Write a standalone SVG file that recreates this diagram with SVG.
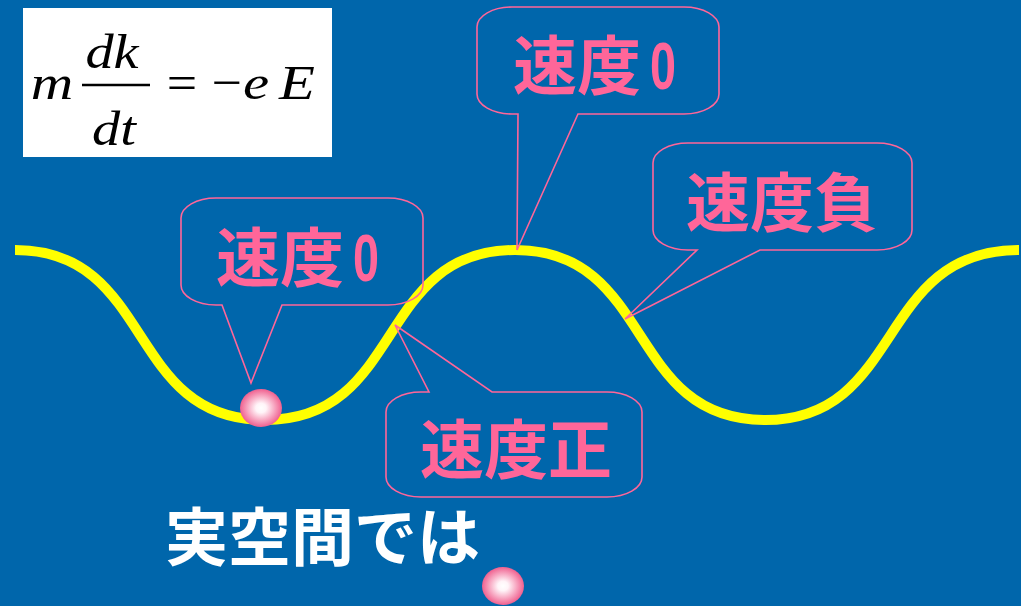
<svg xmlns="http://www.w3.org/2000/svg" width="1021" height="606" viewBox="0 0 1021 606">
<defs>
<style>
.bub{fill:none;stroke:#FF6699;stroke-width:1.6;stroke-linejoin:miter}
.lbl{font-family:"Noto Sans CJK JP","Noto Sans CJK SC",sans-serif;font-weight:bold;font-size:64px;fill:#FF6699}
.zero{font-family:"Liberation Sans",sans-serif;font-weight:bold;font-size:66px}
.math{font-family:"Liberation Serif","Times New Roman",serif;font-size:49px;fill:#000;text-anchor:middle}
.it{font-style:italic}
.ball{fill:url(#ballg)}
.cap{font-family:"Noto Sans CJK JP","Noto Sans CJK SC",sans-serif;font-weight:bold;font-size:63px;fill:#FFFFFF}
</style>
<radialGradient id="ballg" cx="50%" cy="50%" r="50%">
<stop offset="0" stop-color="#FFFFFF"/>
<stop offset="0.25" stop-color="#FFF4F8"/>
<stop offset="1" stop-color="#F0608F"/>
</radialGradient>
</defs>
<rect x="0" y="0" width="1021" height="606" fill="#0066AB"/>

<g id="formula">
<rect x="23" y="8" width="309" height="149" fill="#FFFFFF"/>
<text class="math it" transform="translate(52,99) scale(1.2,1)">m</text>
<text class="math it" transform="translate(112,68) scale(1.15,1)">dk</text>
<line x1="82" y1="85" x2="150" y2="85" stroke="#000" stroke-width="2.5"/>
<text class="math it" transform="translate(114,145) scale(1.15,1)">dt</text>
<text class="math" transform="translate(182,99) scale(1.1,1)">=</text>
<text class="math" transform="translate(227,99) scale(1.1,1)">−</text>
<text class="math it" transform="translate(256,99) scale(1.2,1)">e</text>
<text class="math it" transform="translate(297,99) scale(1.2,1)">E</text>
</g>

<g id="curve">
<path d="M15,250 C155,250 125,420 265,420 C405,420 375,250 515,250 C655,250 625,420 765,420 C905,420 875,250 1019,250" fill="none" stroke="#FFFF00" stroke-width="10"/>
</g>

<g id="connectors">
<path class="bub" d="M216,198 H388 A35,20 0 0 1 423,218 V285 A35,20 0 0 1 388,305 H282 L251,383 L222,305 H216 A35,20 0 0 1 181,285 V218 A35,20 0 0 1 216,198 Z"/>
<path class="bub" d="M512,7 H684 A35,20 0 0 1 719,27 V94 A35,20 0 0 1 684,114 H578 L517,250 L518,114 H512 A35,20 0 0 1 477,94 V27 A35,20 0 0 1 512,7 Z"/>
<path class="bub" d="M688,143 H877 A35,20 0 0 1 912,163 V230 A35,20 0 0 1 877,250 H760 L625,319 L697,250 H688 A35,20 0 0 1 653,230 V163 A35,20 0 0 1 688,143 Z"/>
<path class="bub" d="M421,392 H429 L395,325 L492,392 H607 A35,20 0 0 1 642,412 V477 A35,20 0 0 1 607,497 H421 A35,20 0 0 1 386,477 V412 A35,20 0 0 1 421,392 Z"/>
</g>

<g id="label-bottom-zero">
<text class="lbl" x="216" y="281">速度<tspan class="zero" x="353" textLength="26" lengthAdjust="spacingAndGlyphs">0</tspan></text>
</g>
<g id="label-top-zero">
<text class="lbl" x="513" y="89">速度<tspan class="zero" x="650" textLength="26" lengthAdjust="spacingAndGlyphs">0</tspan></text>
</g>
<g id="label-negative">
<text class="lbl" x="686" y="226">速度負</text>
</g>
<g id="label-positive">
<text class="lbl" x="420" y="473">速度正</text>
</g>

<g id="ball-1">
<ellipse class="ball" cx="261" cy="408" rx="21" ry="19"/>
</g>
<g id="ball-2">
<ellipse class="ball" cx="503" cy="586" rx="21" ry="19"/>
</g>

<g id="caption">
<text class="cap" x="165" y="560">実空間では</text>
</g>
</svg>
